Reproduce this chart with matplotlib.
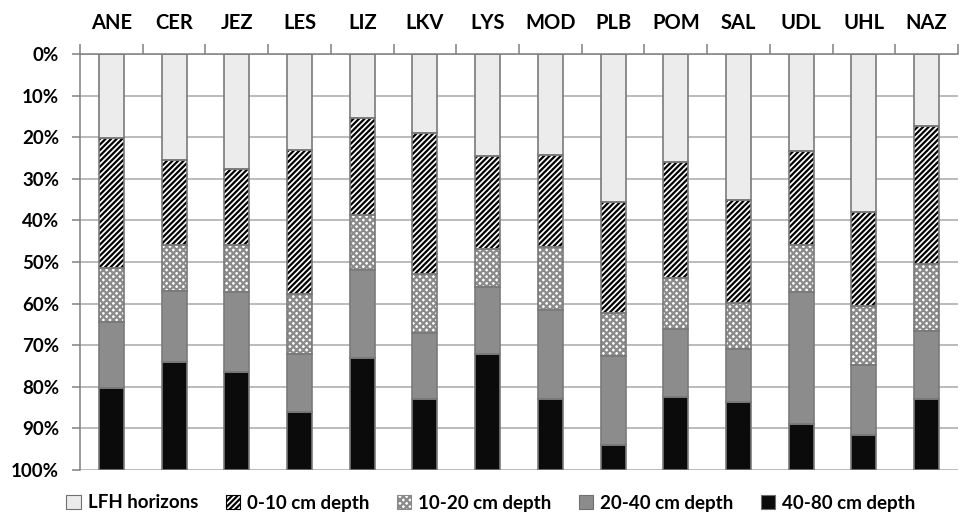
import matplotlib.pyplot as plt
import numpy as np
from matplotlib.patches import Patch

plt.rcParams['font.family'] = ['Lato', 'DejaVu Sans']
plt.rcParams['font.weight'] = 'bold'
plt.rcParams['hatch.linewidth'] = 1.6

sites = ['ANE', 'CER', 'JEZ', 'LES', 'LIZ', 'LKV', 'LYS', 'MOD', 'PLB', 'POM', 'SAL', 'UDL', 'UHL', 'NAZ']
layers = ['LFH horizons', '0-10 cm depth', '10-20 cm depth', '20-40 cm depth', '40-80 cm depth']

# share of each layer (%)
lfh = [20.3, 25.5, 27.7, 23.0, 15.3, 19.0, 24.5, 24.2, 35.5, 26.0, 35.0, 23.2, 38.0, 17.3]
d0_10 = [31.2, 20.3, 18.1, 34.8, 23.3, 34.0, 22.3, 22.3, 26.8, 27.8, 24.8, 22.8, 22.5, 33.2]
d10_20 = [13.0, 11.2, 11.5, 14.2, 13.4, 14.0, 9.1, 15.0, 10.2, 12.4, 11.0, 11.3, 14.3, 16.2]
d20_40 = [15.7, 17.0, 19.2, 14.0, 21.0, 16.0, 16.1, 21.5, 21.5, 16.3, 12.8, 31.7, 16.9, 16.3]
d40_80 = [19.8, 26.0, 23.5, 14.0, 27.0, 17.0, 28.0, 17.0, 6.0, 17.5, 16.4, 11.0, 8.3, 17.0]

series = [lfh, d0_10, d10_20, d20_40, d40_80]
faces = ['#ececec', 'white', 'white', '#8c8c8c', '#0b0b0b']
hatches = [None, '//////', 'xxxxx', None, None]
hatch_cols = ['#808080', 'black', '#8a8a8a', '#808080', '#808080']

fig = plt.figure(figsize=(9.62, 5.16), dpi=100)
ax = fig.add_axes([80 / 962, 1 - 470 / 516, 878 / 962, 416 / 516])

x = np.arange(len(sites))
w = 0.4
bottom = np.zeros(len(sites))
for vals, fc, h, hc in zip(series, faces, hatches, hatch_cols):
    vals = np.array(vals)
    ax.bar(x, vals, w, bottom=bottom, color=fc, hatch=h, edgecolor=hc, linewidth=0, zorder=2)
    ax.bar(x, vals, w, bottom=bottom, fill=False, edgecolor='#7a7a7a', linewidth=1.2, zorder=3)
    bottom += vals

ax.set_xlim(-0.5, len(sites) - 0.5)
ax.set_ylim(100, 0)
ax.set_yticks(np.arange(0, 101, 10))
ax.set_yticklabels([f'{v}%' for v in range(0, 101, 10)], fontsize=13.5, fontweight='bold')
ax.yaxis.grid(True, color='#a8a8a8', linewidth=1.1, zorder=0)
ax.set_axisbelow(True)

ax.xaxis.tick_top()
ax.set_xticks(x)
ax.set_xticklabels(sites, fontsize=14.5, fontweight='bold')
ax.tick_params(axis='x', which='major', length=0, pad=15)
ax.set_xticks(np.arange(-0.5, len(sites), 1), minor=True)
ax.tick_params(axis='x', which='minor', length=7, color='#808080', width=1.1, direction='out')
ax.tick_params(axis='y', length=6, color='#808080', width=1.1, pad=9)

for s in ['right', 'bottom']:
    ax.spines[s].set_visible(False)
for s in ['left', 'top']:
    ax.spines[s].set_color('#808080')
    ax.spines[s].set_linewidth(1.1)

handles = [Patch(facecolor=fc, edgecolor='#707070' if h is None else hc, hatch=h, linewidth=0.8)
           for fc, h, hc in zip(faces, hatches, hatch_cols)]
leg = fig.legend(handles, layers, loc='center', bbox_to_anchor=(491 / 962, 1 - 503 / 516), ncol=5,
                 frameon=False, handlelength=0.75, handleheight=0.75,
                 handletextpad=0.4, columnspacing=1.45, prop={'weight': 'bold', 'size': 13.5})

fig.savefig('out.png', dpi=100)
